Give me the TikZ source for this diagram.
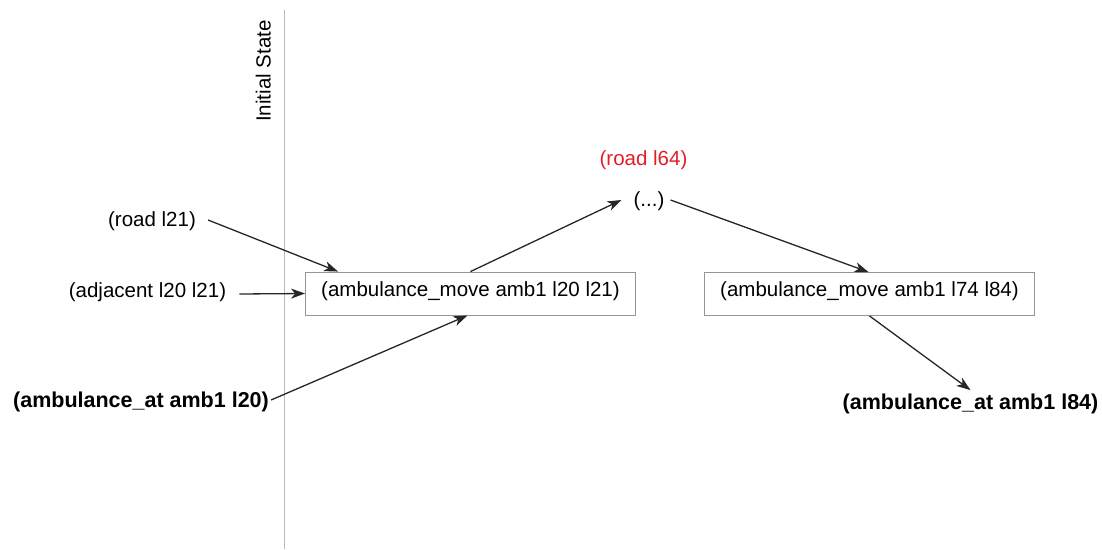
\documentclass[tikz,border=0pt]{standalone}
\usepackage{fontspec}
\setmainfont{Liberation Sans}
\usetikzlibrary{arrows.meta,calc}
\definecolor{boxgray}{RGB}{150,150,150}
\definecolor{axisgray}{RGB}{185,185,185}
\definecolor{factred}{RGB}{226,30,40}
\tikzset{
  fact/.style={inner sep=0pt, font=\fontsize{20.5}{24}\selectfont, text height=0.73em, text depth=0.21em},
  goalfact/.style={fact, font=\fontsize{21.5}{25}\selectfont\bfseries},
  actionbox/.style={draw=boxgray, line width=0.9pt, minimum width=330pt, minimum height=43pt, inner sep=0pt, font=\fontsize{20.5}{24}\selectfont, text height=0.73em, text depth=0.21em},
  link/.style={-{Stealth[length=14pt,width=10pt,inset=4pt]}, line width=1.3pt, black!85}
}
\begin{document}
\begin{tikzpicture}[x=1pt,y=-1pt]
\useasboundingbox (0,0) rectangle (1102,549);
% time axis
\coordinate (axtop) at (284,10);
\coordinate (axbot) at (284,549);
\draw[axisgray, line width=1pt] (axtop) -- (axbot);
\node[fact, rotate=90] (init) at (268,71) {Initial State};

% facts of the initial state
\node[fact] (road21) at (152,224) {(road l21)};
\node[fact] (adj) at (147.5,295) {(adjacent l20 l21)};
\node[goalfact] (at20) at (141,405) {(ambulance\_at amb1 l20)};

% actions
\node[actionbox] (move1) at (470.5,293.5) {(ambulance\_move amb1 l20 l21)};
\node[actionbox] (move2) at (869.5,294) {(ambulance\_move amb1 l74 l84)};

% intermediate facts
\node[fact, text=factred] (road64) at (643.5,163) {(road l64)};
\node[fact] (dots) at (649,204) {(...)};

% goal fact
\node[goalfact] (at84) at (970.5,407) {(ambulance\_at amb1 l84)};

% causal links
\draw[link] ($(road21.east)+(12,-4)$) -- ($(move1.north west)+(33,0)$);
\draw[link] ($(adj.east)+(13,-1)$) -- (move1.west);
\draw[link] ($(at20.east)+(2,-5)$) -- ($(move1.south)+(-3,0)$);
\draw[link] (move1.north) -- ($(dots.west)+(-12,-4)$);
\draw[link] ($(dots.east)+(6,-4)$) -- ($(move2.north)+(-1,0)$);
\draw[link] (move2.south) -- ($(at84.north)+(0,-12)$);
\end{tikzpicture}
\end{document}
